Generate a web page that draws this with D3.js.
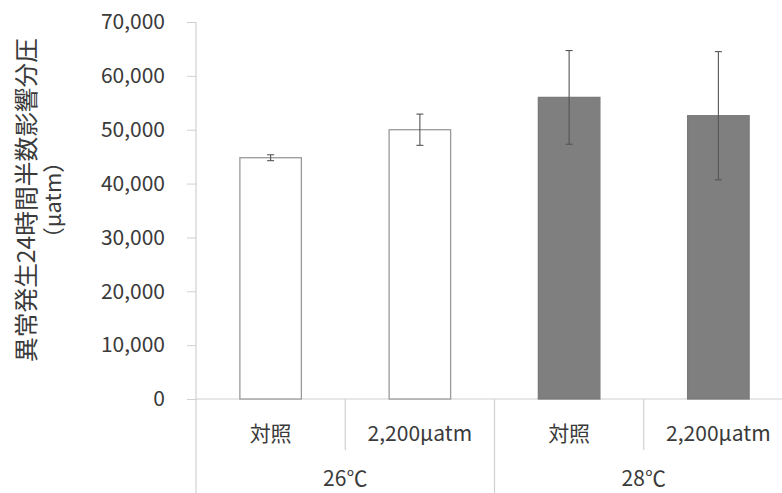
<!DOCTYPE html>
<html>
<head>
<meta charset="utf-8">
<script src="https://cdn.jsdelivr.net/npm/d3@7"></script>
<style>
  html, body { margin: 0; padding: 0; background: #fff; }
  svg { display: block; font-family: "Noto Sans CJK JP", "Noto Sans", sans-serif; }
</style>
</head>
<body>
<svg id="chart" width="782" height="493"></svg>
<script>
// Conditions (CO2 level) within each temperature group
const categories = ["対照", "2,200μatm", "対照", "2,200μatm"];
const groups = ["26℃", "28℃"];
const groupOf = [0, 0, 1, 1];
// 24-hour EC50 partial pressure for abnormal development (μatm)
const values = [44800, 50000, 56000, 52600];
const errors = [550, 2900, 8700, 11900];
const fills = ["#ffffff", "#ffffff", "#7f7f7f", "#7f7f7f"];
const yTicks = [0, 10000, 20000, 30000, 40000, 50000, 60000, 70000];

(function () {
const svg = d3.select("#chart");
const plotLeft = 196, plotRight = 793, plotTop = 22, plotBottom = 399;
const textColor = "#3a3a3a";
const axisColor = "#d0d0d0";

const x = d3.scaleBand()
  .domain(d3.range(categories.length))
  .range([plotLeft, plotRight])
  .paddingInner(0.588)
  .paddingOuter(0.294);

const y = d3.scaleLinear().domain([0, 70000]).range([plotBottom, plotTop]);

// Y axis with ticks on the left
const yAxis = d3.axisLeft(y)
  .tickValues(yTicks)
  .tickSize(9)
  .tickPadding(22)
  .tickFormat(d3.format(","));
const gy = svg.append("g").attr("transform", `translate(${plotLeft},0)`).call(yAxis);
gy.select(".domain").remove();
gy.selectAll(".tick line").attr("stroke", axisColor).attr("stroke-width", 1);
gy.selectAll(".tick text")
  .attr("fill", textColor)
  .attr("font-size", 21)
  .attr("font-family", "'Noto Sans CJK JP', sans-serif");

// Vertical axis line running down through the category label rows
svg.append("line")
  .attr("x1", plotLeft).attr("x2", plotLeft)
  .attr("y1", plotTop).attr("y2", 493)
  .attr("stroke", axisColor).attr("stroke-width", 1.2);

// Baseline
svg.append("line")
  .attr("x1", plotLeft).attr("x2", 782)
  .attr("y1", plotBottom).attr("y2", plotBottom)
  .attr("stroke", axisColor).attr("stroke-width", 1.2);

// Bars
svg.append("g").selectAll("rect")
  .data(values)
  .join("rect")
  .attr("x", (d, i) => x(i))
  .attr("width", x.bandwidth())
  .attr("y", d => y(d))
  .attr("height", d => y(0) - y(d))
  .attr("fill", (d, i) => fills[i])
  .attr("stroke", (d, i) => fills[i] === "#ffffff" ? "#9a9a9a" : "#7a7a7a")
  .attr("stroke-width", 1.3);

// Error bars
const eb = svg.append("g").selectAll("g")
  .data(values)
  .join("g")
  .attr("stroke", "#555")
  .attr("stroke-width", 1.1);
eb.append("line")
  .attr("x1", (d, i) => x(i) + x.bandwidth() / 2)
  .attr("x2", (d, i) => x(i) + x.bandwidth() / 2)
  .attr("y1", (d, i) => y(d + errors[i]))
  .attr("y2", (d, i) => y(d - errors[i]));
[1, -1].forEach(s => {
  eb.append("line")
    .attr("x1", (d, i) => x(i) + x.bandwidth() / 2 - 3.5)
    .attr("x2", (d, i) => x(i) + x.bandwidth() / 2 + 3.5)
    .attr("y1", (d, i) => y(d + s * errors[i]))
    .attr("y2", (d, i) => y(d + s * errors[i]));
});

// Category dividers and labels
const step = x.step();
const cat = svg.append("g");
categories.forEach((c, i) => {
  const cx = x(i) + x.bandwidth() / 2;
  cat.append("text")
    .attr("x", cx).attr("y", 441)
    .attr("text-anchor", "middle")
    .attr("fill", textColor)
    .attr("font-size", 21)
    .text(c);
  if (i > 0) {
    const bx = cx - step / 2;
    const isGroupEdge = groupOf[i] !== groupOf[i - 1];
    cat.append("line")
      .attr("x1", bx).attr("x2", bx)
      .attr("y1", plotBottom).attr("y2", isGroupEdge ? 493 : 450)
      .attr("stroke", axisColor).attr("stroke-width", 1.2);
  }
});

// Group labels
groups.forEach((g, gi) => {
  const idx = d3.range(categories.length).filter(i => groupOf[i] === gi);
  const x0 = x(idx[0]) + x.bandwidth() / 2 - step / 2;
  const x1 = x(idx[idx.length - 1]) + x.bandwidth() / 2 + step / 2;
  cat.append("text")
    .attr("x", (x0 + x1) / 2).attr("y", 486)
    .attr("text-anchor", "middle")
    .attr("fill", textColor)
    .attr("font-size", 21)
    .text(g);
});

// Y axis title (two lines, rotated)
const title = svg.append("text")
  .attr("transform", "translate(27,200) rotate(-90)")
  .attr("text-anchor", "middle")
  .attr("fill", textColor)
  .attr("font-size", 24);
title.append("tspan").attr("x", 0).attr("dy", "0.35em")
  .attr("textLength", 324).attr("lengthAdjust", "spacingAndGlyphs")
  .text("異常発生24時間半数影響分圧");
title.append("tspan").attr("x", 0).attr("dy", "1.15em").attr("font-size", 22).text("（μatm）");
})();
</script>
</body>
</html>
